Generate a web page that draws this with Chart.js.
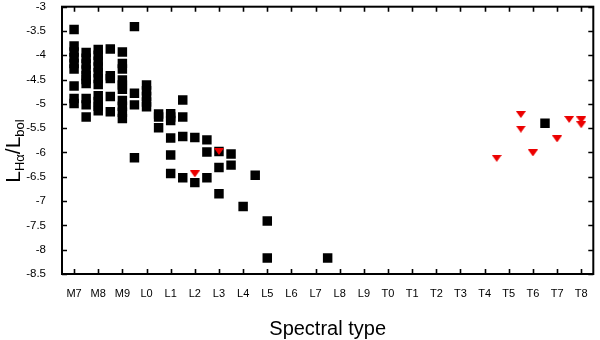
<!DOCTYPE html>
<html><head><meta charset="utf-8">
<script src="https://cdn.jsdelivr.net/npm/chart.js@4/dist/chart.umd.min.js"></script>
<style>html,body{margin:0;padding:0;background:#fff}canvas{display:block}</style>
</head><body>
<canvas id="c" width="600" height="340"></canvas>
<script>
// x tick labels (spectral type index 0 = M7 ... 21 = T8)
const spectralTypes = ['M7','M8','M9','L0','L1','L2','L3','L4','L5','L6','L7','L8','L9',
  'T0','T1','T2','T3','T4','T5','T6','T7','T8'];
const yTickStep = 0.5;
const yMin = -8.5, yMax = -3;

// H-alpha detections (black squares): spectral type index, log(L_Ha/L_bol)
const detSpT = [
  0,0,0,0,0,0,0,0,0,
  0.5,0.5,0.5,0.5,0.5,0.5,0.5,0.5,0.5,0.5,
  1,1,1,1,1,1,1,1,1,1,1,
  1.5,1.5,1.5,1.5,1.5,
  2,2,2,2,2,2,2,2,2,2,
  2.5,2.5,2.5,2.5,
  3,3,3,3,3,
  3.5,3.5,3.5,
  4,4,4,4,4,4,
  4.5,4.5,4.5,4.5,
  5,5,
  5.5,5.5,5.5,
  6,6,6,
  6.5,6.5,
  7,
  7.5,
  8,8,
  10.5,
  19.5
];
const detLogRatio = [
  -3.47,-3.81,-3.93,-4.05,-4.17,-4.28,-4.63,-4.89,-4.99,
  -3.94,-4.06,-4.18,-4.30,-4.42,-4.50,-4.58,-4.89,-5.02,-5.27,
  -3.88,-4.00,-4.12,-4.24,-4.36,-4.48,-4.60,-4.83,-4.95,-5.05,-5.14,
  -3.87,-4.42,-4.48,-4.85,-5.16,
  -3.93,-4.17,-4.28,-4.51,-4.61,-4.70,-4.93,-5.05,-5.17,-5.30,
  -3.41,-4.78,-5.02,-6.11,
  -4.61,-4.73,-4.85,-4.96,-5.06,
  -5.21,-5.27,-5.49,
  -5.20,-5.27,-5.34,-5.70,-6.05,-6.43,
  -4.92,-5.27,-5.67,-6.52,
  -5.69,-6.62,
  -5.74,-5.99,-6.52,
  -5.98,-6.31,-6.85,
  -6.03,-6.26,
  -7.11,
  -6.47,
  -7.41,-8.17,
  -8.17,
  -5.40
];

// upper limits (red down triangles)
const limSpT = [5, 6, 17.5, 18.5, 18.5, 19, 20, 20.5, 21, 21];
const limLogRatio = [-6.44, -5.98, -6.12, -5.22, -5.52, -6.01, -5.72, -5.32, -5.33, -5.43];

const FONT = '"Liberation Sans", Arial, Helvetica, sans-serif';
const RED = 'rgb(236,0,0)';

function toPoints(xs, ys){ return xs.map((x,i)=>({x:x, y:ys[i]})); }

function makeTriangle(color){
  const c = document.createElement('canvas');
  c.width = 10; c.height = 7;
  const g = c.getContext('2d');
  g.fillStyle = color;
  g.beginPath(); g.moveTo(0,0); g.lineTo(10,0); g.lineTo(5,7); g.closePath(); g.fill();
  return c;
}

const framePlugin = {
  id: 'frame',
  afterDatasetsDraw(chart){
    const {ctx, chartArea:a, scales:{x, y}} = chart;
    ctx.save();
    ctx.strokeStyle = '#000';
    ctx.lineWidth = 1.6;
    ctx.beginPath();
    x.ticks.forEach(t => {
      const px = Math.round(x.getPixelForValue(t.value)) + 0.5;
      ctx.moveTo(px, a.bottom); ctx.lineTo(px, a.bottom - 5);
      ctx.moveTo(px, a.top); ctx.lineTo(px, a.top + 5);
    });
    y.ticks.forEach(t => {
      const py = Math.round(y.getPixelForValue(t.value)) + 0.5;
      ctx.moveTo(a.left, py); ctx.lineTo(a.left + 5, py);
      ctx.moveTo(a.right, py); ctx.lineTo(a.right - 5, py);
    });
    ctx.stroke();
    ctx.lineWidth = 2;
    ctx.strokeRect(a.left, a.top, a.right - a.left, a.bottom - a.top);

    // x title
    ctx.fillStyle = '#000';
    ctx.font = '20px ' + FONT;
    ctx.textAlign = 'center';
    ctx.textBaseline = 'alphabetic';
    ctx.fillText('Spectral type', (a.left + a.right) / 2, 335);

    // y title: L_Hα / L_bol, rotated
    const parts = [
      {t:'L', f:21, d:0},
      {t:'H\u03B1', f:13, d:4},
      {t:'/', f:21, d:0},
      {t:'L', f:21, d:0},
      {t:'bol', f:13, d:4}
    ];
    let total = 0;
    parts.forEach(p => { ctx.font = p.f + 'px ' + FONT; p.w = ctx.measureText(p.t).width; total += p.w; });
    ctx.translate(20, 151);
    ctx.rotate(-Math.PI/2);
    ctx.textAlign = 'left';
    let cx = -total/2;
    parts.forEach(p => {
      ctx.font = p.f + 'px ' + FONT;
      ctx.fillText(p.t, cx, p.d);
      cx += p.w;
    });
    ctx.restore();
  }
};

new Chart(document.getElementById('c'), {
  type: 'scatter',
  data: {
    datasets: [
      {
        label: 'upper limits',
        data: toPoints(limSpT, limLogRatio),
        pointStyle: makeTriangle(RED),
        backgroundColor: RED,
        borderWidth: 0,
        order: 1
      },
      {
        label: 'detections',
        data: toPoints(detSpT, detLogRatio),
        pointStyle: 'rect',
        pointRadius: 6.7,
        backgroundColor: '#000',
        borderColor: '#000',
        borderWidth: 0,
        order: 2
      }
    ]
  },
  options: {
    responsive: false,
    animation: false,
    devicePixelRatio: 1,
    layout: {padding: {left: 0, right: 3, top: 4, bottom: 0}},
    plugins: {legend: {display: false}, tooltip: {enabled: false}},
    scales: {
      x: {
        type: 'linear',
        min: -0.5, max: spectralTypes.length - 0.5,
        grid: {display: false},
        border: {display: false},
        afterBuildTicks: s => { s.ticks = spectralTypes.map((_, i) => ({value: i})); },
        afterFit: s => { s.height = 66; s.paddingLeft = 0; s.paddingRight = 0; },
        ticks: {
          autoSkip: false, maxRotation: 0, padding: 5,
          color: '#000', font: {family: FONT, size: 11},
          callback: v => spectralTypes[v] !== undefined ? spectralTypes[v] : ''
        }
      },
      y: {
        type: 'linear',
        min: yMin, max: yMax,
        grid: {display: false},
        border: {display: false},
        afterFit: s => { s.width = 62; s.paddingTop = 0; s.paddingBottom = 0; },
        ticks: {
          stepSize: yTickStep, padding: 8,
          color: '#000', font: {family: FONT, size: 11.5},
          callback: v => String(v)
        }
      }
    }
  },
  plugins: [framePlugin]
});
</script>
</body></html>
